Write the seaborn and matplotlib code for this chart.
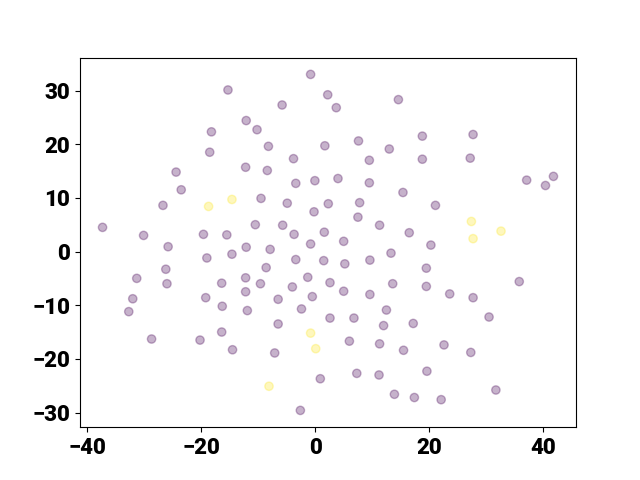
import matplotlib
matplotlib.use("Agg")
import matplotlib.pyplot as plt
import seaborn as sns
import pandas as pd
from matplotlib import cm

# --- Data (two groups of an embedding) ---
x_purple = [-15.3, -12.1, -18.2, -18.5, -12.2, -24.4, -23.5, -26.7, -37.3, -30.1,
            -19.6, -15.5, -25.8, -12.1, -0.8, 2.2, -5.8, 3.7, 14.6, -10.2,
            -8.2, 1.7, 7.6, 13.0, -3.8, 9.5, -8.4, -3.4, -0.05, 4.0,
            9.5, 15.4, -9.5, -4.9, 2.3, 7.8, -0.2, 7.5, 11.3, 16.5,
            -10.5, -5.7, -3.7, 1.6, -0.8, 5.0, -7.9, 18.8, 27.7, 18.8,
            27.2, 37.1, 41.8, 40.4, 21.1, 20.3, -19.0, -14.6, -26.2, -31.3,
            -26.0, -16.4, -12.2, -12.2, -32.0, -19.2, -16.3, -11.9, -32.7, -28.7,
            -16.4, -20.2, -14.5, -3.4, 1.5, 5.2, 9.6, 13.3, -8.6, -9.6,
            -4.0, -1.3, 2.6, 5.0, 9.6, 13.6, -6.5, -0.5, -2.4, 2.6,
            6.8, 12.5, 12.0, 17.2, -6.5, 6.0, 11.3, 15.5, -7.1, 0.9,
            7.3, 11.2, 13.9, 17.4, -2.6, 19.5, 35.8, 19.5, 23.6, 27.7,
            30.5, 22.6, 27.3, 19.6, 22.1, 31.7]
y_purple = [30.1, 24.4, 22.3, 18.5, 15.7, 14.8, 11.5, 8.6, 4.5, 3.0,
            3.2, 3.1, 0.9, 0.8, 33.0, 29.2, 27.3, 26.8, 28.3, 22.7,
            19.6, 19.7, 20.6, 19.1, 17.3, 17.0, 15.1, 12.7, 13.2, 13.6,
            12.8, 11.0, 9.9, 9.0, 8.9, 9.1, 7.4, 6.4, 4.9, 3.5,
            5.0, 4.9, 3.2, 3.6, 1.4, 1.9, 0.4, 21.5, 21.8, 17.2,
            17.4, 13.3, 14.0, 12.3, 8.6, 1.2, -1.2, -0.5, -3.3, -5.0,
            -6.0, -5.9, -4.9, -7.5, -8.8, -8.6, -10.2, -11.0, -11.2, -16.3,
            -15.0, -16.5, -18.3, -1.5, -1.7, -2.3, -1.6, -0.3, -3.0, -6.0,
            -6.6, -4.8, -5.8, -7.4, -8.0, -6.0, -8.9, -8.4, -10.7, -12.4,
            -12.4, -10.9, -13.8, -13.4, -13.5, -16.7, -17.2, -18.4, -18.9, -23.7,
            -22.7, -23.0, -26.6, -27.2, -29.6, -3.1, -5.6, -6.5, -7.9, -8.6,
            -12.2, -17.4, -18.8, -22.3, -27.6, -25.8]

x_yellow = [-14.6, -18.7, 27.4, 32.6, 27.7, -0.8, 0.1, -8.1]
y_yellow = [9.7, 8.4, 5.6, 3.8, 2.4, -15.2, -18.1, -25.1]

df = pd.DataFrame({
    "x": x_purple + x_yellow,
    "y": y_purple + y_yellow,
    "label": [0] * len(x_purple) + [1] * len(x_yellow),
})

plt.rcParams['font.family'] = ['Roboto', 'DejaVu Sans']

fig, ax = plt.subplots(figsize=(6.4, 4.8), dpi=100)
palette = {0: cm.viridis(0.0), 1: cm.viridis(1.0)}
sns.scatterplot(data=df, x="x", y="y", hue="label", palette=palette,
                alpha=0.3, s=36, edgecolor="face", linewidth=1.0,
                legend=False, ax=ax)
ax.set_xlabel("")
ax.set_ylabel("")
ax.tick_params(labelsize=16)
for lbl in ax.get_xticklabels() + ax.get_yticklabels():
    lbl.set_fontweight("heavy")

fig.savefig("out.png", dpi=100)
